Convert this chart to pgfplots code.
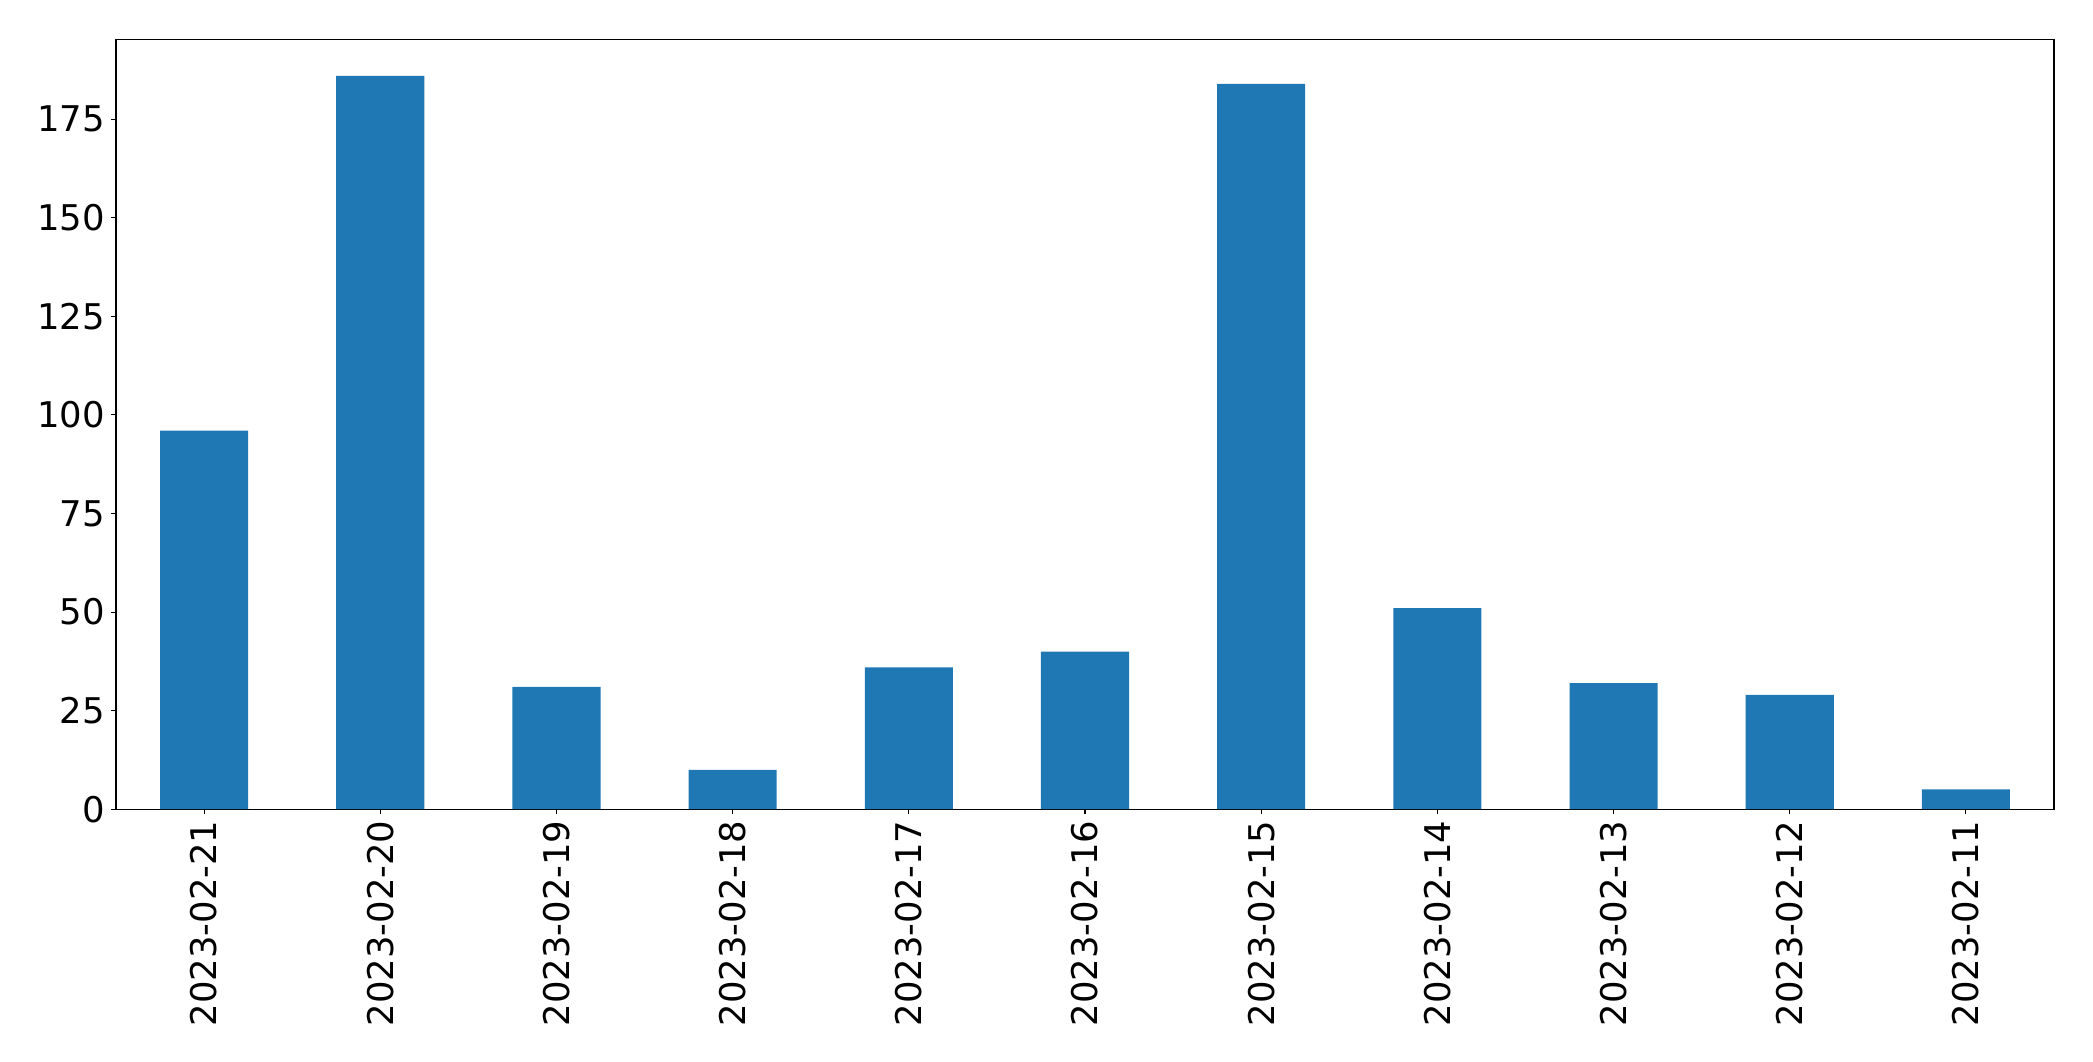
\documentclass[border=0pt]{standalone}
\usepackage{fontspec}
\setmainfont{DejaVu Sans}
\usepackage{pgfplots}
\pgfplotsset{compat=1.18}
\definecolor{mplblue}{HTML}{1F77B4}
\begin{document}
\begin{tikzpicture}
	\begin{axis}[
			name=ax,
			width=969pt, height=385pt,
			scale only axis,
			ybar,
			bar width=0.5,
			xmin=-0.5, xmax=10.5,
			ymin=0, ymax=195.3,
			xtick={0,1,2,3,4,5,6,7,8,9,10},
			xticklabels={2023-02-21,2023-02-20,2023-02-19,2023-02-18,2023-02-17,2023-02-16,2023-02-15,2023-02-14,2023-02-13,2023-02-12,2023-02-11},
			ytick={0,25,50,75,100,125,150,175},
			tick align=outside,
			major tick length=2.5pt,
			xtick pos=bottom, ytick pos=left,
			tick style={line width=0.55pt, black},
			axis line style={line width=0.55pt},
			/pgf/number format/assume math mode=true,
			ticklabel style={font=\fontsize{17.7}{21}\selectfont},
			x tick label style={rotate=90, anchor=east, inner sep=3pt},
			y tick label style={inner sep=3pt},
		]
		\addplot[fill=mplblue, draw=none] coordinates {
				(0,96) (1,186) (2,31) (3,10) (4,36) (5,40)
				(6,184) (7,51) (8,32) (9,29) (10,5)
			};
	\end{axis}
	\pgfresetboundingbox
	\path ([shift={(-58pt,-125.9pt)}]ax.south west) rectangle ([shift={(19.5pt,19.6pt)}]ax.north east);
\end{tikzpicture}
\end{document}
